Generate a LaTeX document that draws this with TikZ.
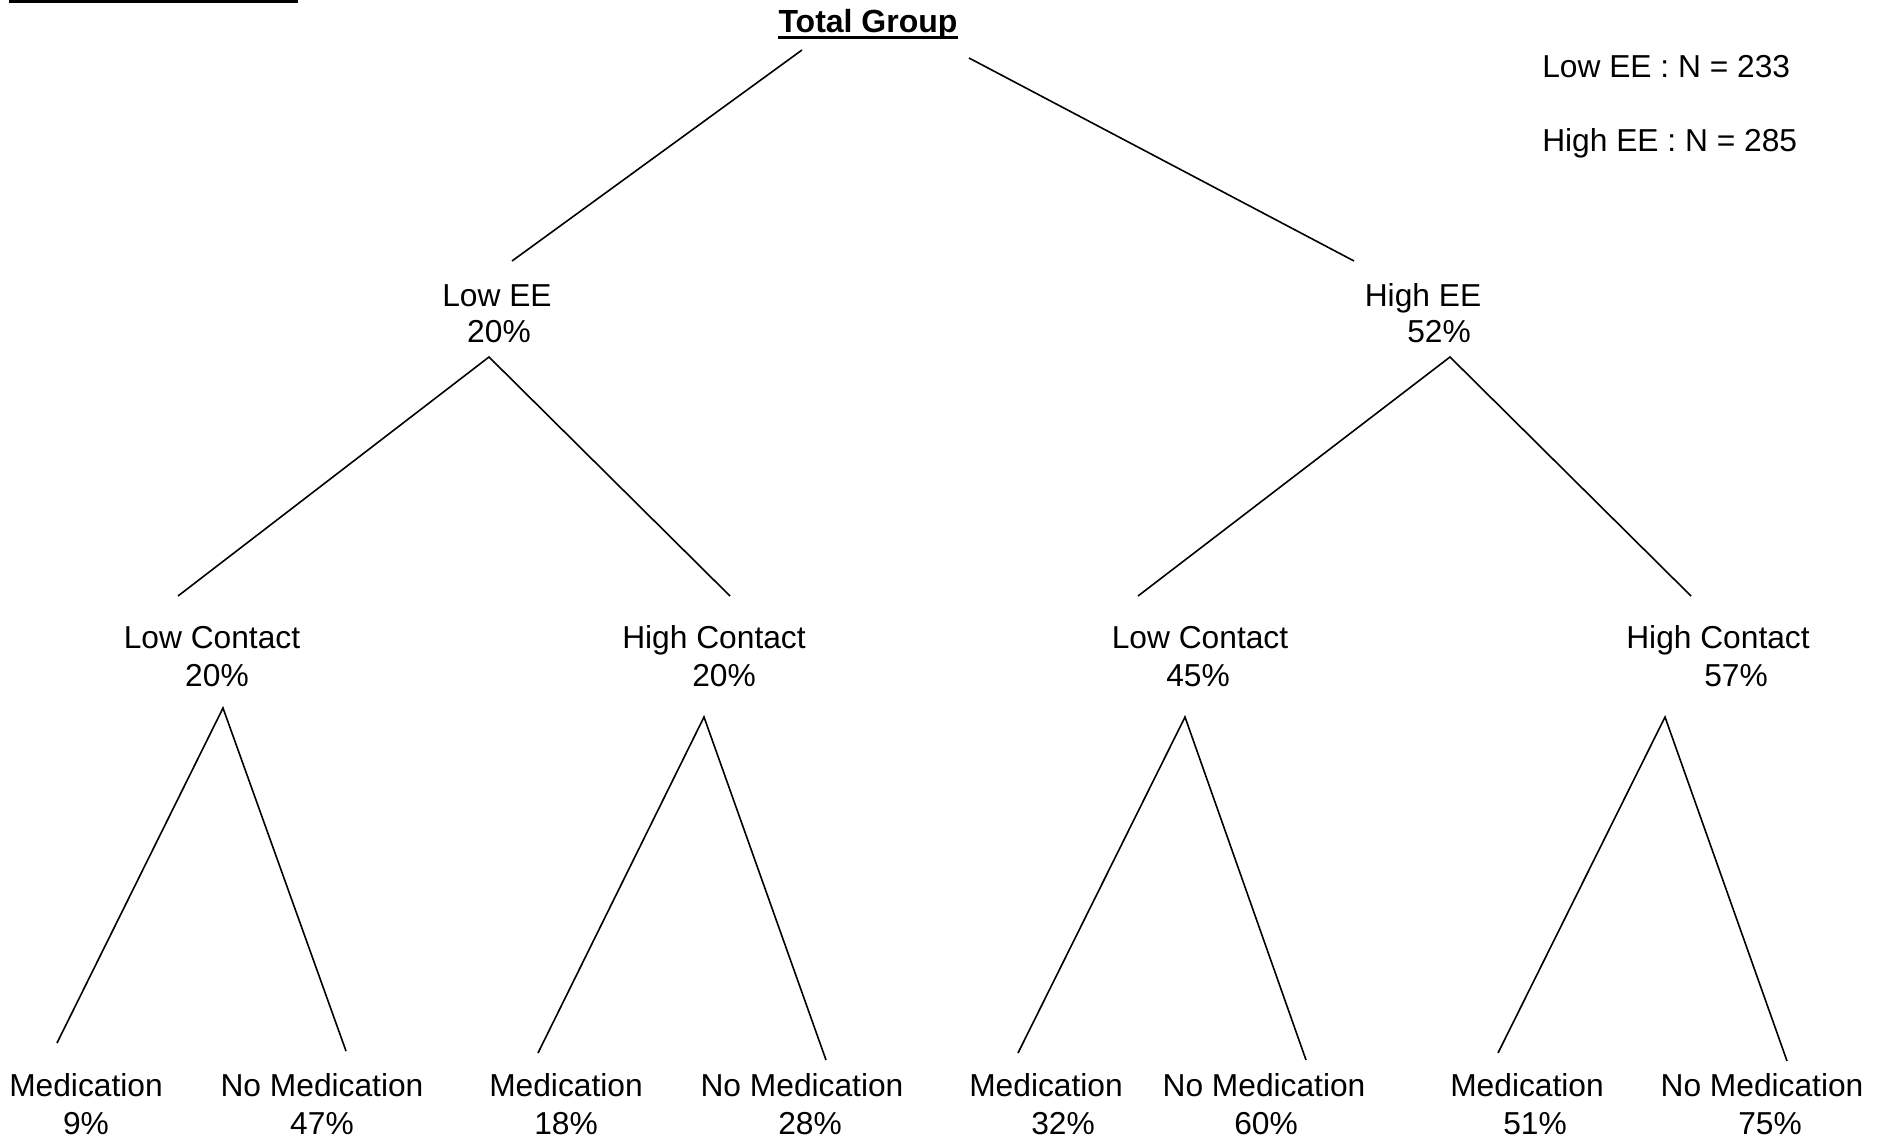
\documentclass[tikz,border=0pt]{standalone}
\usepackage{fontspec}
\setmainfont{Liberation Sans}
\begin{document}
\begin{tikzpicture}[x=0.75pt,y=-0.75pt,
  lbl/.style={inner sep=0pt,anchor=base,font=\fontsize{23.8}{28.5}\selectfont},
  edge/.style={line width=1.2pt}]
\useasboundingbox (0,0) rectangle (1881,1141);
% top-left bar
\fill (9,0) rectangle (298,3.5);
% title
\node[lbl,font=\fontsize{24}{28.5}\selectfont\bfseries] (title) at (868,33) {Total Group};
\draw[line width=2.3pt] ([yshift=-3.5pt]title.base west) -- ([yshift=-3.5pt]title.base east);
% legend
\node[lbl,anchor=base west] (leg1) at (1542,77.5) {Low EE : N = 233};
\node[lbl,anchor=base west] (leg2) at (1542,151.5) {High EE : N = 285};
% level 1
\node[lbl] (lowee) at (497,306) {Low EE};
\node[lbl] (loweep) at (499,343) {20\%};
\node[lbl] (highee) at (1423,306) {High EE};
\node[lbl] (higheep) at (1439,343) {52\%};
% level 2
\node[lbl] (lc1) at (212,648) {Low Contact};
\node[lbl] (lc1p) at (217,686) {20\%};
\node[lbl] (hc1) at (714,648) {High Contact};
\node[lbl] (hc1p) at (724,686) {20\%};
\node[lbl] (lc2) at (1200,648) {Low Contact};
\node[lbl] (lc2p) at (1198,686) {45\%};
\node[lbl] (hc2) at (1718,648) {High Contact};
\node[lbl] (hc2p) at (1736,686) {57\%};
% level 3
\node[lbl] (m1) at (86,1096) {Medication};
\node[lbl] (m1p) at (86,1134) {9\%};
\node[lbl] (n1) at (322,1096) {No Medication};
\node[lbl] (n1p) at (322,1134) {47\%};
\node[lbl] (m2) at (566,1096) {Medication};
\node[lbl] (m2p) at (566,1134) {18\%};
\node[lbl] (n2) at (802,1096) {No Medication};
\node[lbl] (n2p) at (810,1134) {28\%};
\node[lbl] (m3) at (1046,1096) {Medication};
\node[lbl] (m3p) at (1063,1134) {32\%};
\node[lbl] (n3) at (1264,1096) {No Medication};
\node[lbl] (n3p) at (1266,1134) {60\%};
\node[lbl] (m4) at (1527,1096) {Medication};
\node[lbl] (m4p) at (1535,1134) {51\%};
\node[lbl] (n4) at (1762,1096) {No Medication};
\node[lbl] (n4p) at (1770,1134) {75\%};
% connector end points
\coordinate (tL) at (802,50);
\coordinate (tR) at (969,58);
\coordinate (loweeTop) at (512,261);
\coordinate (higheeTop) at (1354,261);
\coordinate (loweeApex) at (489,357);
\coordinate (higheeApex) at (1450,357);
\coordinate (lc1Top) at (178,596);
\coordinate (hc1Top) at (730,596);
\coordinate (lc2Top) at (1138,596);
\coordinate (hc2Top) at (1691,596);
\coordinate (lc1Apex) at (223,708);
\coordinate (hc1Apex) at (704,717);
\coordinate (lc2Apex) at (1185,717);
\coordinate (hc2Apex) at (1665,717);
\coordinate (m1Top) at (57,1043);
\coordinate (n1Top) at (346,1051);
\coordinate (m2Top) at (538,1053);
\coordinate (n2Top) at (826,1060);
\coordinate (m3Top) at (1018,1053);
\coordinate (n3Top) at (1306,1060);
\coordinate (m4Top) at (1498,1053);
\coordinate (n4Top) at (1787,1061);
% connectors
\draw[edge] (tL) -- (loweeTop);
\draw[edge] (tR) -- (higheeTop);
\draw[edge] (lc1Top) -- (loweeApex) -- (hc1Top);
\draw[edge] (lc2Top) -- (higheeApex) -- (hc2Top);
\draw[edge] (m1Top) -- (lc1Apex) -- (n1Top);
\draw[edge] (m2Top) -- (hc1Apex) -- (n2Top);
\draw[edge] (m3Top) -- (lc2Apex) -- (n3Top);
\draw[edge] (m4Top) -- (hc2Apex) -- (n4Top);
\end{tikzpicture}
\end{document}
